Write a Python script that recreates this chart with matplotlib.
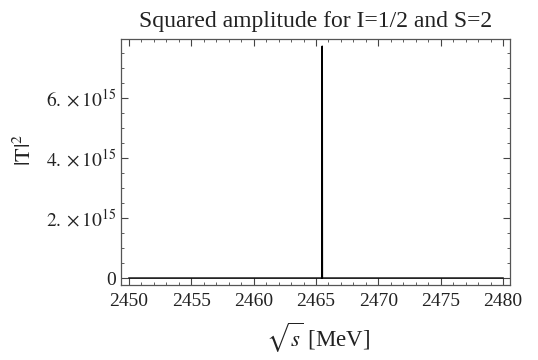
import matplotlib
matplotlib.use("Agg")
import matplotlib.pyplot as plt
from matplotlib.ticker import MultipleLocator

plt.rcParams['font.family'] = ['Liberation Serif', 'DejaVu Serif']
plt.rcParams['mathtext.fontset'] = 'stix'

# narrow resonance peak
sqrt_s = [2450, 2465.49, 2465.5, 2465.51, 2480]
t_sq = [0, 0, 7.72e15, 0, 0]

yticks = [0, 2e15, 4e15, 6e15]
ytick_labels = ['0', r'$2.\times 10^{15}$', r'$4.\times 10^{15}$', r'$6.\times 10^{15}$']
xticks = [2450, 2455, 2460, 2465, 2470, 2475, 2480]

fig = plt.figure(figsize=(5.38, 3.6), dpi=100)
ax = fig.add_axes([121/538, 1 - 285/360, (510-121)/538, (285-39)/360])

ax.plot(sqrt_s, t_sq, color='black', lw=1.1)

ax.set_xlim(2449.36, 2480.56)
ax.set_ylim(-0.23e15, 7.96e15)
ax.set_xticks(xticks)
ax.set_xticklabels([str(v) for v in xticks])
ax.set_yticks(yticks)
ax.set_yticklabels(ytick_labels)
ax.xaxis.set_minor_locator(MultipleLocator(1))
ax.yaxis.set_minor_locator(MultipleLocator(0.5e15))

ax.tick_params(which='both', direction='in', top=True, right=True,
               colors='#444444', labelcolor='#222222', labelsize=14)
ax.tick_params(which='major', length=5, width=0.8)
ax.tick_params(which='minor', length=2.5, width=0.6)
ax.tick_params(axis='x', pad=6)
for sp in ax.spines.values():
    sp.set_color('#555555')
    sp.set_linewidth(0.9)

ax.set_title('Squared amplitude for I=1/2 and S=2', fontsize=17, color='#222222', pad=9)
fig.text(318/538, 1 - 338/360, r'$\sqrt{s}$ [MeV]', fontsize=16.5, color='#222222',
         ha='center', va='center')
fig.text(25/538, 1 - 150/360, r'$|\mathrm{T}|^2$', fontsize=16, color='#222222',
         rotation=90, ha='center', va='center')

fig.savefig('out.png', dpi=100)
